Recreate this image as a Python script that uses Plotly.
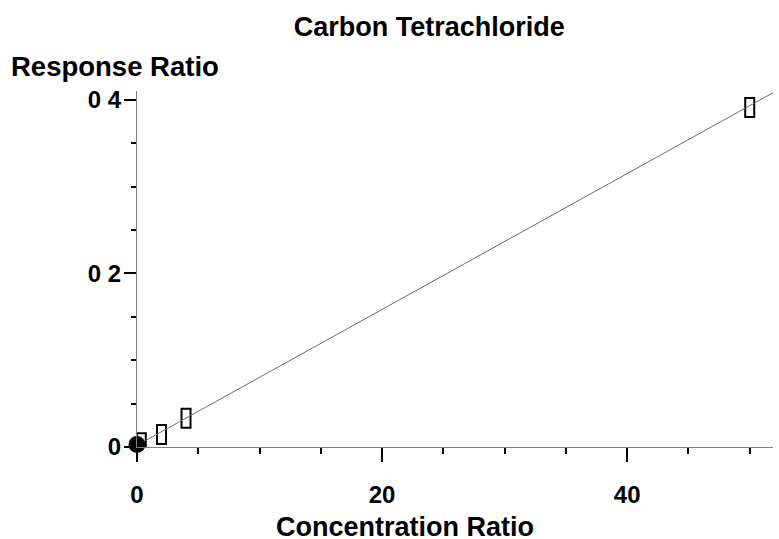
import plotly.graph_objects as go

# data
conc = [0.35, 2.0, 4.0, 50.0]
resp = [0.005, 0.0144, 0.033, 0.391]
origin_x = [0.0]
origin_y = [0.003]
fit_x = [0.0, 51.9]
fit_y = [0.002, 0.408]
y_tickvals = [0, 0.2, 0.4]
y_ticktext = ["0", "0 2", "0 4"]
x_tickvals = [0, 20, 40]
x_ticktext = ["0", "20", "40"]

FONT = "Liberation Sans, Arial, sans-serif"

fig = go.Figure()
fig.add_trace(go.Scatter(x=fit_x, y=fit_y, mode="lines",
                         line=dict(color="#6e6e6e", width=1), cliponaxis=False,
                         showlegend=False, hoverinfo="skip"))
fig.add_trace(go.Scatter(x=conc, y=resp, mode="markers",
                         marker=dict(size=1, color="rgba(0,0,0,0)"),
                         cliponaxis=False, showlegend=False))
fig.add_trace(go.Scatter(x=origin_x, y=origin_y, mode="markers",
                         marker=dict(size=17, color="black", symbol="circle",
                                     line=dict(width=0)),
                         cliponaxis=False, showlegend=False))

shapes = []
for cx, cy in zip(conc, resp):
    shapes.append(dict(type="rect", xref="x", yref="y",
                       xsizemode="pixel", ysizemode="pixel",
                       xanchor=cx, yanchor=cy,
                       x0=-4.5, x1=4.5, y0=-9.5, y1=9.5,
                       line=dict(color="black", width=2),
                       fillcolor="rgba(255,255,255,0)", layer="below"))

fig.update_layout(
    width=779, height=539,
    margin=dict(l=137, r=6, t=91, b=92),
    plot_bgcolor="white", paper_bgcolor="white",
    shapes=shapes,
    font=dict(family=FONT, color="black"),
    title=dict(text="<b>Carbon Tetrachloride</b>", x=0.551, xanchor="center",
               xref="container", yref="container", y=0.95, yanchor="middle",
               font=dict(size=27, family=FONT, color="black")),
    xaxis=dict(range=[0, 51.9], showgrid=False, zeroline=False,
               showline=True, linecolor="#808080", linewidth=1,
               tickmode="array", tickvals=x_tickvals, ticktext=x_ticktext,
               ticks="outside", ticklen=14, tickwidth=2, tickcolor="black",
               ticklabelstandoff=12,
               tickfont=dict(size=24, family=FONT, color="black", weight="bold"),
               minor=dict(tickmode="linear", tick0=0, dtick=5, ticks="outside",
                          ticklen=6, tickwidth=2, tickcolor="black", showgrid=False)),
    yaxis=dict(range=[0, 0.41], showgrid=False, zeroline=False,
               showline=True, linecolor="#808080", linewidth=1,
               tickmode="array", tickvals=y_tickvals, ticktext=y_ticktext,
               ticks="outside", ticklen=12, tickwidth=2, tickcolor="black",
               ticklabelstandoff=-2,
               tickfont=dict(size=24, family=FONT, color="black", weight="bold"),
               minor=dict(tickmode="linear", tick0=0, dtick=0.05, ticks="outside",
                          ticklen=5, tickwidth=2, tickcolor="black", showgrid=False)),
    annotations=[
        dict(text="<b>Response Ratio</b>", xref="paper", yref="paper",
             x=-0.2006, y=1.069, xanchor="left", yanchor="middle", showarrow=False,
             font=dict(size=27.5, family=FONT, color="black")),
        dict(text="<b>Concentration Ratio</b>", xref="paper", yref="paper",
             x=0.4217, y=-0.226, xanchor="center", yanchor="middle", showarrow=False,
             font=dict(size=27, family=FONT, color="black")),
    ],
)

fig.write_html("out.html")
